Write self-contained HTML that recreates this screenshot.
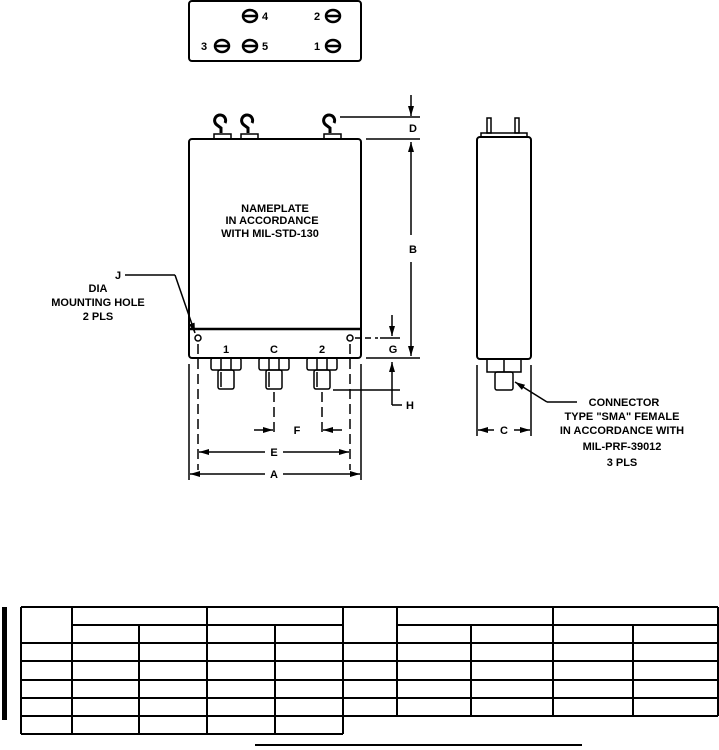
<!DOCTYPE html>
<html><head><meta charset="utf-8"><style>
html,body{margin:0;padding:0;background:#fff}
svg{display:block}
text{font-family:"Liberation Sans",sans-serif;font-weight:bold;font-size:11px;fill:#000}
</style></head><body>
<svg width="719" height="750" viewBox="0 0 719 750" xmlns="http://www.w3.org/2000/svg">
<defs>
<marker id="ar" viewBox="0 0 10 6" refX="10" refY="3" markerWidth="8" markerHeight="4" orient="auto-start-reverse"><path d="M0,0L10,3L0,6z" fill="#000"/></marker>
<g id="sym"><ellipse cx="0" cy="0" rx="7" ry="6" fill="none" stroke="#000" stroke-width="2.5"/><line x1="-7" y1="0" x2="7" y2="0" stroke="#000" stroke-width="2.5"/></g>
<g id="conn" fill="none" stroke="#000" stroke-width="1.5">
<rect x="-15" y="0" width="30" height="12" rx="2"/><line x1="-5" y1="0" x2="-5" y2="12"/><line x1="5" y1="0" x2="5" y2="12"/>
<rect x="-8" y="12" width="16" height="19" rx="2"/><line x1="-5" y1="14" x2="-5" y2="29"/></g>
</defs>
<g fill="none" stroke="#000">
<rect x="189" y="1" width="172" height="60" rx="3" stroke-width="2"/>
<rect x="189" y="139" width="172" height="219" rx="3" stroke-width="2"/>
<line x1="189" y1="329" x2="361" y2="329" stroke-width="2.5"/>
<circle cx="198" cy="338" r="3" stroke-width="1.5"/><circle cx="350" cy="338" r="3" stroke-width="1.5"/>
<path d="M225,123 a5.5,5.5 0 1 0 -8,2 l4,3 0,5" stroke-width="3"/><rect x="214" y="134" width="17" height="5" stroke-width="1.5"/>
<path d="M252,123 a5.5,5.5 0 1 0 -8,2 l4,3 0,5" stroke-width="3"/><rect x="241" y="134" width="17" height="5" stroke-width="1.5"/>
<path d="M334,123 a5.5,5.5 0 1 0 -8,2 l4,3 0,5" stroke-width="3"/><rect x="324" y="134" width="17" height="5" stroke-width="1.5"/>
<g stroke-width="1.5">
<line x1="340" y1="117" x2="420" y2="117"/><line x1="366" y1="139" x2="420" y2="139"/><line x1="366" y1="358" x2="420" y2="358"/>
<line x1="411" y1="95" x2="411" y2="116" marker-end="url(#ar)"/>
<line x1="411" y1="142" x2="411" y2="235" marker-start="url(#ar)"/><line x1="411" y1="262" x2="411" y2="356" marker-end="url(#ar)"/>
<line x1="355" y1="338" x2="378" y2="338" stroke-dasharray="6,4"/><line x1="380" y1="338" x2="400" y2="338"/>
<line x1="392" y1="315" x2="392" y2="336" marker-end="url(#ar)"/>
<line x1="392" y1="362" x2="392" y2="405" marker-start="url(#ar)"/><line x1="392" y1="405" x2="402" y2="405"/>
<line x1="333" y1="390" x2="400" y2="390"/>
<line x1="189" y1="364" x2="189" y2="480"/><line x1="361" y1="364" x2="361" y2="480"/>
<line x1="198" y1="344" x2="198" y2="470" stroke-dasharray="10,5"/><line x1="350" y1="344" x2="350" y2="470" stroke-dasharray="10,5"/>
<line x1="274" y1="392" x2="274" y2="436" stroke-dasharray="10,5"/><line x1="322" y1="392" x2="322" y2="436" stroke-dasharray="10,5"/>
<line x1="254" y1="430" x2="273" y2="430" marker-end="url(#ar)"/><line x1="342" y1="430" x2="323" y2="430" marker-end="url(#ar)"/>
<line x1="265" y1="452" x2="199" y2="452" marker-end="url(#ar)"/><line x1="283" y1="452" x2="349" y2="452" marker-end="url(#ar)"/>
<line x1="265" y1="474" x2="190" y2="474" marker-end="url(#ar)"/><line x1="283" y1="474" x2="360" y2="474" marker-end="url(#ar)"/>
<line x1="125" y1="275" x2="175" y2="275"/><line x1="175" y1="275" x2="195" y2="333" marker-end="url(#ar)"/>
</g>
<rect x="477" y="137" width="54" height="222" rx="3" stroke-width="2"/>
<rect x="481" y="133" width="46" height="4" stroke-width="1.5"/>
<rect x="487" y="118" width="4" height="15" stroke-width="1.5"/><rect x="515" y="118" width="4" height="15" stroke-width="1.5"/>
<g stroke-width="1.5">
<rect x="487" y="359" width="34" height="13"/><line x1="504" y1="359" x2="504" y2="372"/>
<rect x="495" y="372" width="18" height="18" rx="2"/>
<line x1="477" y1="365" x2="477" y2="436"/><line x1="531" y1="365" x2="531" y2="436"/>
<line x1="494" y1="430" x2="478" y2="430" marker-end="url(#ar)"/><line x1="514" y1="430" x2="530" y2="430" marker-end="url(#ar)"/>
<line x1="577" y1="402" x2="547" y2="402"/><line x1="547" y1="402" x2="515" y2="382" marker-end="url(#ar)"/>
</g>
</g>
<use href="#conn" x="226" y="358"/><use href="#conn" x="274" y="358"/><use href="#conn" x="322" y="358"/>
<use href="#sym" x="250" y="16"/><use href="#sym" x="333" y="16"/>
<use href="#sym" x="222" y="46"/><use href="#sym" x="250" y="46"/><use href="#sym" x="333" y="46"/>
<text x="262" y="20">4</text><text x="314" y="20">2</text>
<text x="201" y="50">3</text><text x="262" y="50">5</text><text x="314" y="50">1</text>
<g text-anchor="middle">
<text x="275" y="212">NAMEPLATE</text><text x="272" y="224">IN ACCORDANCE</text><text x="270" y="237">WITH MIL-STD-130</text>
<text x="226" y="353">1</text><text x="274" y="353">C</text><text x="322" y="353">2</text>
<text x="413" y="132">D</text><text x="413" y="253">B</text><text x="393" y="353">G</text><text x="410" y="409">H</text>
<text x="297" y="434">F</text><text x="274" y="456">E</text><text x="274" y="478">A</text>
<text x="504" y="434">C</text>
<text x="118" y="279">J</text><text x="98" y="292">DIA</text><text x="98" y="306">MOUNTING HOLE</text><text x="98" y="320">2 PLS</text>
<text x="624" y="406">CONNECTOR</text><text x="622" y="420">TYPE "SMA" FEMALE</text><text x="622" y="434">IN ACCORDANCE WITH</text><text x="622" y="450">MIL-PRF-39012</text><text x="622" y="466">3 PLS</text>
</g>
<g stroke="#000" stroke-width="2" fill="none">
<rect x="2" y="607" width="5" height="113" fill="#000" stroke="none"/>
<line x1="21" y1="607" x2="718" y2="607"/>
<line x1="72" y1="625" x2="343" y2="625"/><line x1="397" y1="625" x2="718" y2="625"/>
<line x1="21" y1="643" x2="718" y2="643"/><line x1="21" y1="661" x2="718" y2="661"/>
<line x1="21" y1="680" x2="718" y2="680"/><line x1="21" y1="698" x2="718" y2="698"/>
<line x1="21" y1="716" x2="718" y2="716"/><line x1="21" y1="734" x2="343" y2="734"/>
<line x1="21" y1="607" x2="21" y2="734"/><line x1="72" y1="607" x2="72" y2="734"/>
<line x1="139" y1="625" x2="139" y2="734"/><line x1="207" y1="607" x2="207" y2="734"/>
<line x1="275" y1="625" x2="275" y2="734"/><line x1="343" y1="607" x2="343" y2="734"/>
<line x1="397" y1="607" x2="397" y2="716"/><line x1="471" y1="625" x2="471" y2="716"/>
<line x1="553" y1="607" x2="553" y2="716"/><line x1="633" y1="625" x2="633" y2="716"/>
<line x1="718" y1="607" x2="718" y2="716"/>
<line x1="255" y1="745" x2="582" y2="745"/>
</g>
</svg>
</body></html>
